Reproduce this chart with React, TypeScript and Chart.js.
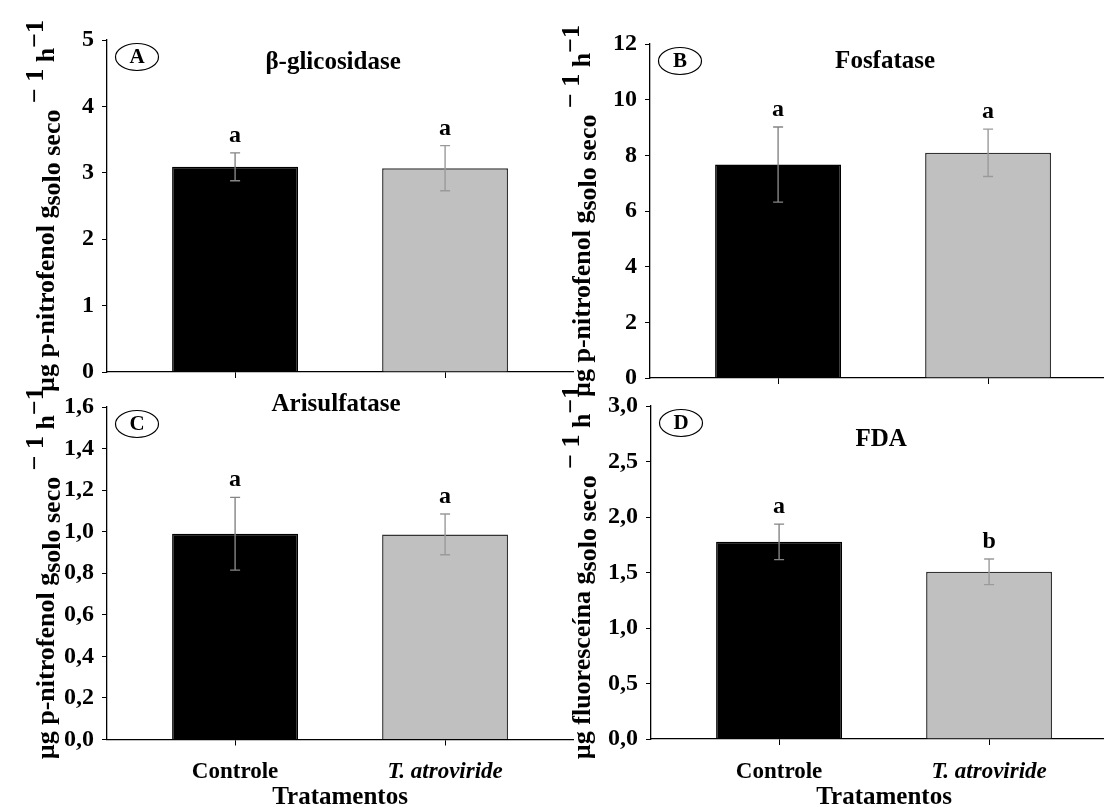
import React, { useEffect, useRef } from 'react';
import { Chart, registerables } from 'chart.js';

Chart.register(...registerables);

// ---------- data ----------
const categories = ['Controle', 'T. atroviride'];

const glicosidaseMeans = [3.09, 3.07];
const glicosidaseErrors = [0.21, 0.34];
const glicosidaseLetters = ['a', 'a'];
const glicosidaseTicks = [0, 1, 2, 3, 4, 5];
const glicosidaseTickLabels = ['0', '1', '2', '3', '4', '5'];

const fosfataseMeans = [7.67, 8.09];
const fosfataseErrors = [1.35, 0.85];
const fosfataseLetters = ['a', 'a'];
const fosfataseTicks = [0, 2, 4, 6, 8, 10, 12];
const fosfataseTickLabels = ['0', '2', '4', '6', '8', '10', '12'];

const arisulfataseMeans = [0.99, 0.987];
const arisulfataseErrors = [0.175, 0.098];
const arisulfataseLetters = ['a', 'a'];
const arisulfataseTicks = [0, 0.2, 0.4, 0.6, 0.8, 1.0, 1.2, 1.4, 1.6];
const arisulfataseTickLabels = ['0,0', '0,2', '0,4', '0,6', '0,8', '1,0', '1,2', '1,4', '1,6'];

const fdaMeans = [1.776, 1.506];
const fdaErrors = [0.16, 0.115];
const fdaLetters = ['a', 'b'];
const fdaTicks = [0, 0.5, 1.0, 1.5, 2.0, 2.5, 3.0];
const fdaTickLabels = ['0,0', '0,5', '1,0', '1,5', '2,0', '2,5', '3,0'];

// ---------- styling / layout ----------
const FONT = '"Liberation Serif", "Times New Roman", Times, serif';
const CW = 1130;
const CH = 810;
const X_MIN = -0.61;
const X_MAX = 1.61;
const PX_PER_X = 210;
const YW = 70;
const BAR_COLORS = ['#000000', '#c0c0c0'];
const BAR_BORDERS = ['#000000', '#333333'];
const ERR_COLORS = ['#858585', '#9a9a9a'];

const panels = [
  {
    key: 'A', title: 'β-glicosidase', titleDx: -7, titleDy: 23,
    means: glicosidaseMeans, errors: glicosidaseErrors, letters: glicosidaseLetters,
    ticks: glicosidaseTicks, tickLabels: glicosidaseTickLabels, yMax: 5,
    area: { left: 107, top: 40, bottom: 372 }, yTitleDx: 60,
    yTitleMain: 'µg p-nitrofenol g', showCats: false,
  },
  {
    key: 'B', title: 'Fosfatase', titleDx: 2, titleDy: 18,
    means: fosfataseMeans, errors: fosfataseErrors, letters: fosfataseLetters,
    ticks: fosfataseTicks, tickLabels: fosfataseTickLabels, yMax: 12,
    area: { left: 650, top: 44, bottom: 378 }, yTitleDx: 67,
    yTitleMain: 'µg p-nitrofenol g', showCats: false,
  },
  {
    key: 'C', title: 'Arisulfatase', titleDx: -4, titleDy: -2,
    means: arisulfataseMeans, errors: arisulfataseErrors, letters: arisulfataseLetters,
    ticks: arisulfataseTicks, tickLabels: arisulfataseTickLabels, yMax: 1.6,
    area: { left: 107, top: 407, bottom: 739.5 }, yTitleDx: 60,
    yTitleMain: 'µg p-nitrofenol g', showCats: true,
  },
  {
    key: 'D', title: 'FDA', titleDx: -3, titleDy: 34,
    means: fdaMeans, errors: fdaErrors, letters: fdaLetters,
    ticks: fdaTicks, tickLabels: fdaTickLabels, yMax: 3,
    area: { left: 651, top: 406, bottom: 739 }, yTitleDx: 68,
    yTitleMain: 'µg fluoresceína g', showCats: true,
  },
];

function drawYTitle(ctx: CanvasRenderingContext2D, cx: number, cy: number, main: string) {
  const size = 26;
  const parts = [
    { t: main, dy: 0 },
    { t: 'solo seco', dy: 6 },
    { t: ' − 1', dy: -11 },
    { t: ' h', dy: 0 },
    { t: '−1', dy: -11 },
  ];
  ctx.save();
  ctx.translate(cx, cy);
  ctx.rotate(-Math.PI / 2);
  ctx.font = `bold ${size}px ${FONT}`;
  ctx.textBaseline = 'middle';
  ctx.textAlign = 'left';
  ctx.fillStyle = '#000';
  const total = parts.reduce((s, p) => s + ctx.measureText(p.t).width, 0);
  let x = -total / 2;
  for (const p of parts) {
    ctx.fillText(p.t, x, p.dy);
    x += ctx.measureText(p.t).width;
  }
  ctx.restore();
}

function Panel({ cfg }: { cfg: any }) {
  const ref = useRef<HTMLCanvasElement | null>(null);
  useEffect(() => {
    const canvas = ref.current;
    if (!canvas) return;
    const xh = cfg.showCats ? CH - cfg.area.bottom : 20;
    const right = cfg.area.left + (X_MAX - X_MIN) * PX_PER_X;
    const annotations = {
      id: 'annot' + cfg.key,
      afterDatasetsDraw(chart: any) {
        const ctx: CanvasRenderingContext2D = chart.ctx;
        const { left, top, right: r, bottom } = chart.chartArea;
        const xs = chart.scales.x;
        const ys = chart.scales.y;
        ctx.save();
        // error bars + letters
        cfg.means.forEach((m: number, i: number) => {
          const x = xs.getPixelForValue(i);
          const yHi = ys.getPixelForValue(m + cfg.errors[i]);
          const yLo = ys.getPixelForValue(m - cfg.errors[i]);
          ctx.strokeStyle = ERR_COLORS[i];
          ctx.lineWidth = 1.4;
          ctx.beginPath();
          ctx.moveTo(x, yHi); ctx.lineTo(x, yLo);
          ctx.moveTo(x - 5, yHi); ctx.lineTo(x + 5, yHi);
          ctx.moveTo(x - 5, yLo); ctx.lineTo(x + 5, yLo);
          ctx.stroke();
          ctx.fillStyle = '#000';
          ctx.font = `bold 24px ${FONT}`;
          ctx.textAlign = 'center';
          ctx.textBaseline = 'alphabetic';
          ctx.fillText(cfg.letters[i], x, yHi - 11);
        });
        // panel letter in ellipse
        const ex = left + 30;
        const ey = top + 17;
        ctx.beginPath();
        ctx.ellipse(ex, ey, 21.5, 13.5, 0, 0, Math.PI * 2);
        ctx.strokeStyle = '#000';
        ctx.lineWidth = 1.2;
        ctx.stroke();
        ctx.fillStyle = '#000';
        ctx.font = `bold 21px ${FONT}`;
        ctx.textAlign = 'center';
        ctx.textBaseline = 'middle';
        ctx.fillText(cfg.key, ex, ey + 1);
        // panel title
        ctx.font = `bold 25px ${FONT}`;
        ctx.fillText(cfg.title, (left + r) / 2 + cfg.titleDx, top + cfg.titleDy);
        ctx.restore();
        // y axis title
        drawYTitle(ctx, left - cfg.yTitleDx, (top + bottom) / 2, cfg.yTitleMain);
      },
    };
    const chart = new Chart(canvas, {
      type: 'bar',
      data: {
        datasets: [
          {
            data: cfg.means.map((m: number, i: number) => ({ x: i, y: m })),
            backgroundColor: BAR_COLORS,
            borderColor: BAR_BORDERS,
            borderWidth: 1.5,
            categoryPercentage: 0.6,
            barPercentage: 1,
          },
        ],
      },
      options: {
        responsive: false,
        animation: false,
        events: [],
        layout: {
          padding: {
            left: cfg.area.left - YW,
            top: cfg.area.top,
            right: CW - right,
            bottom: CH - cfg.area.bottom - xh,
          },
        },
        plugins: {
          legend: { display: false },
          tooltip: { enabled: false },
          title: { display: false },
        },
        scales: {
          x: {
            type: 'linear',
            min: X_MIN,
            max: X_MAX,
            offset: false,
            afterBuildTicks: (s: any) => {
              s.ticks = categories.map((_, i) => ({ value: i }));
            },
            afterFit: (s: any) => {
              s.height = xh;
            },
            grid: {
              display: true, offset: false, drawOnChartArea: false, drawTicks: true,
              tickLength: 6, color: '#000', lineWidth: 1,
            },
            border: { display: true, color: '#000', width: 1.3 },
            ticks: {
              padding: 13,
              color: '#000',
              autoSkip: false,
              maxRotation: 0,
              font: (c: any) => ({
                family: FONT, size: 23, weight: 'bold',
                style: c.index === 1 ? 'italic' : 'normal',
              }),
              callback: (v: any) => (cfg.showCats ? categories[Math.round(v)] : ''),
            },
            title: {
              display: cfg.showCats,
              text: 'Tratamentos',
              color: '#000',
              font: { family: FONT, size: 25, weight: 'bold', lineHeight: 1 },
              padding: { top: 0, bottom: 0 },
            },
          },
          y: {
            type: 'linear',
            min: 0,
            max: cfg.yMax,
            afterBuildTicks: (s: any) => {
              s.ticks = cfg.ticks.map((v: number) => ({ value: v }));
            },
            afterFit: (s: any) => {
              s.width = YW;
            },
            grid: {
              display: true, drawOnChartArea: false, drawTicks: true,
              tickLength: 5, color: '#000', lineWidth: 1,
            },
            border: { display: true, color: '#000', width: 1.3 },
            ticks: {
              padding: 8,
              color: '#000',
              font: { family: FONT, size: 24, weight: 'bold' },
              callback: (_v: any, i: number) => cfg.tickLabels[i],
            },
          },
        },
      },
      plugins: [annotations],
    } as any);
    return () => chart.destroy();
  }, []);
  return (
    <canvas
      ref={ref}
      width={CW}
      height={CH}
      style={{ position: 'absolute', left: 0, top: 0, width: CW, height: CH }}
    />
  );
}

export default function App() {
  return (
    <div
      style={{
        position: 'absolute', left: 0, top: 0, width: 1104, height: 810,
        overflow: 'hidden', background: '#fff',
      }}
    >
      {panels.map((p) => (
        <Panel key={p.key} cfg={p} />
      ))}
    </div>
  );
}
